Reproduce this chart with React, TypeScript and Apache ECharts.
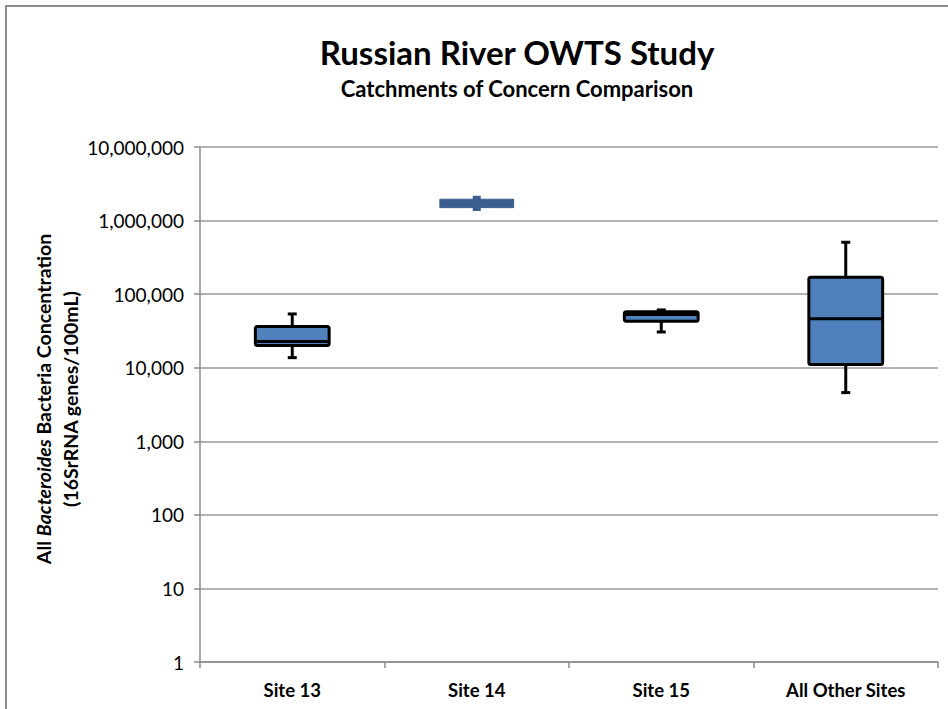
import React, { useEffect, useRef } from "react";
import * as echarts from "echarts";

const categories = ["Site 13", "Site 14", "Site 15", "All Other Sites"];
// [min, q1, median, q3, max]
const boxMin = [13700, 1350000, 30600, 4590];
const boxQ1 = [20000, 1500000, 42800, 11100];
const boxMedian = [22800, 1700000, 52900, 46400];
const boxQ3 = [36300, 1950000, 57800, 169500];
const boxMax = [53800, 2170000, 61000, 507000];
const yTicks = [1, 10, 100, 1000, 10000, 100000, 1000000, 10000000];

const titleText = "Russian River OWTS Study";
const subtitleText = "Catchments of Concern Comparison";

const FONT = "Lato, 'Open Sans', sans-serif";

export default function App() {
  const ref = useRef<HTMLDivElement>(null);
  useEffect(() => {
    if (!ref.current) return;
    const chart = echarts.init(ref.current, null, { renderer: "svg" });
    const data = categories.map((_, i) => [i, boxMin[i], boxQ1[i], boxMedian[i], boxQ3[i], boxMax[i]]);
    const option: any = {
      animation: false,
      backgroundColor: "#ffffff",
      textStyle: { fontFamily: FONT },
      grid: { left: 200, right: 10, top: 147, bottom: 47, containLabel: false },
      xAxis: {
        type: "category",
        data: categories,
        boundaryGap: true,
        axisLine: { show: true, lineStyle: { color: "#8c8c8c", width: 1.5 } },
        axisTick: { show: true, length: 6, inside: false, lineStyle: { color: "#8c8c8c", width: 1.5 } },
        axisLabel: { fontFamily: FONT, fontSize: 18.5, fontWeight: "bold", color: "#000", margin: 18 },
        splitLine: { show: false },
      },
      yAxis: {
        type: "log",
        logBase: 10,
        min: yTicks[0],
        max: yTicks[yTicks.length - 1],
        splitNumber: 7,
        axisLine: { show: true, lineStyle: { color: "#8c8c8c", width: 1.5 } },
        axisTick: { show: true, length: 6, inside: false, lineStyle: { color: "#8c8c8c", width: 1.5 } },
        axisLabel: {
          fontFamily: FONT,
          fontSize: 19,
          color: "#000",
          margin: 16,
          formatter: (v: number) => Math.round(v).toLocaleString("en-US"),
        },
        splitLine: { show: true, lineStyle: { color: "#9a9a9a", width: 1.5 } },
      },
      graphic: [
        {
          type: "rect",
          shape: { x: 6, y: 6, width: 1200, height: 1200 },
          style: { fill: "none", stroke: "#8c8c8c", lineWidth: 2 },
          silent: true,
        },
        {
          type: "text",
          x: 517,
          y: 52,
          style: { text: titleText, font: `bold 33px ${FONT}`, fill: "#000", align: "center", verticalAlign: "middle" },
        },
        {
          type: "text",
          x: 517,
          y: 88,
          style: { text: subtitleText, font: `bold 22px ${FONT}`, fill: "#000", align: "center", verticalAlign: "middle" },
        },
        {
          type: "text",
          x: 57,
          y: 399,
          rotation: Math.PI / 2,
          style: {
            text: "{b|All }{i|Bacteroides}{b| Bacteria Concentration}\n{b|(16SrRNA genes/100mL)}",
            align: "center",
            verticalAlign: "middle",
            fill: "#000",
            rich: {
              b: { fontFamily: FONT, fontSize: 19.5, fontWeight: "bold", lineHeight: 27, fill: "#000" },
              i: { fontFamily: FONT, fontSize: 19.5, fontWeight: "bold", fontStyle: "italic", lineHeight: 27, fill: "#000" },
            },
          },
        },
      ],
      series: [
        {
          type: "custom",
          data: data,
          encode: { x: 0, y: [1, 2, 3, 4, 5] },
          clip: false,
          renderItem: (params: any, api: any) => {
            const i = api.value(0);
            const vMin = api.value(1);
            const vQ1 = api.value(2);
            const vMed = api.value(3);
            const vQ3 = api.value(4);
            const vMax = api.value(5);
            const c = api.coord([i, vMed]);
            const cx = c[0];
            const band = api.coord([1, 1])[0] - api.coord([0, 1])[0];
            const w = band * 0.40;
            const yMin = api.coord([i, vMin])[1];
            const yQ1 = api.coord([i, vQ1])[1];
            const yMed = c[1];
            const yQ3 = api.coord([i, vQ3])[1];
            const yMax = api.coord([i, vMax])[1];
            const special = i === 1;
            if (special) {
              const col = "#3b5f8f";
              return {
                type: "group",
                children: [
                  {
                    type: "line",
                    shape: { x1: cx, y1: yMax, x2: cx, y2: yMin },
                    style: { stroke: col, lineWidth: 8 },
                  },
                  {
                    type: "rect",
                    shape: { x: cx - w / 2, y: yQ3, width: w, height: yQ1 - yQ3 },
                    style: { fill: col, stroke: col, lineWidth: 1 },
                  },
                ],
              };
            }
            const capW = 9;
            const lw = 3;
            return {
              type: "group",
              children: [
                { type: "line", shape: { x1: cx, y1: yQ3, x2: cx, y2: yMax }, style: { stroke: "#000", lineWidth: lw } },
                { type: "line", shape: { x1: cx, y1: yQ1, x2: cx, y2: yMin }, style: { stroke: "#000", lineWidth: lw } },
                { type: "line", shape: { x1: cx - capW / 2, y1: yMax, x2: cx + capW / 2, y2: yMax }, style: { stroke: "#000", lineWidth: lw } },
                { type: "line", shape: { x1: cx - capW / 2, y1: yMin, x2: cx + capW / 2, y2: yMin }, style: { stroke: "#000", lineWidth: lw } },
                {
                  type: "rect",
                  shape: { x: cx - w / 2, y: yQ3, width: w, height: yQ1 - yQ3, r: 2 },
                  style: { fill: "#4f81bd", stroke: "#000", lineWidth: lw },
                },
                { type: "line", shape: { x1: cx - w / 2, y1: yMed, x2: cx + w / 2, y2: yMed }, style: { stroke: "#000", lineWidth: lw } },
              ],
            };
          },
        },
      ],
    };
    chart.setOption(option);
    return () => chart.dispose();
  }, []);
  return <div ref={ref} style={{ position: "fixed", left: 0, top: 0, width: 948, height: 709 }} />;
}
